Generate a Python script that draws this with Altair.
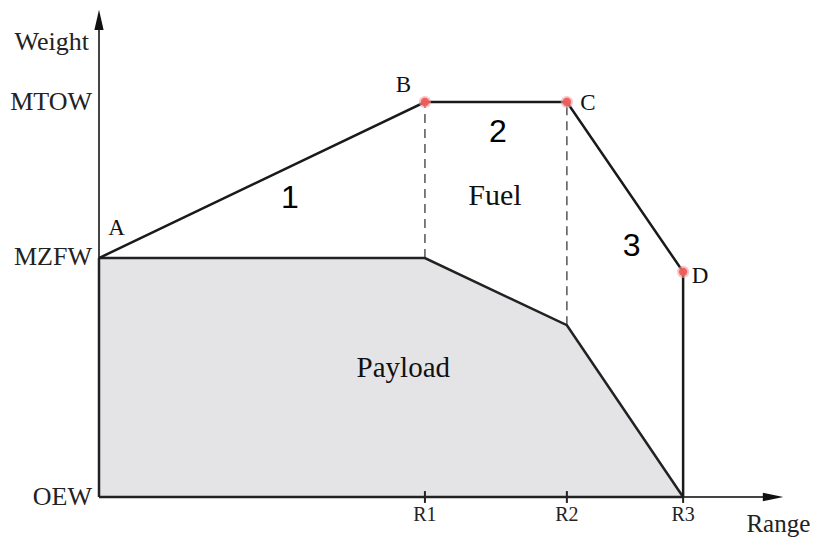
import altair as alt
import pandas as pd

# ---- data (arbitrary units: range 0..R3=100, weight OEW=0..MTOW=100)
R1, R2, R3 = 55.8, 80.1, 100.0
OEW, MZFW, MTOW = 0.0, 60.5, 100.0
D_W = 57.0
PAYLOAD_AT_R2 = 43.5

envelope_x = [0.0, R1, R2, R3, R3]
envelope_y = [MZFW, MTOW, MTOW, D_W, OEW]

payload_x = [0.0, R1, R2, R3]
payload_y = [MZFW, MZFW, PAYLOAD_AT_R2, OEW]

dot_x = [R1, R2, R3]
dot_y = [MTOW, MTOW, D_W]

dash_x = [R1, R2]
dash_y1 = [MZFW, PAYLOAD_AT_R2]
dash_y2 = [MTOW, MTOW]

tick_x = [R1, R2]
tick_names = ["R1", "R2", "R3"]
tick_vals = [R1, R2, R3]
ylab_names = ["MTOW", "MZFW", "OEW"]
ylab_base = [98.0, 58.7, -2.0]

serif_text = ["A", "B", "C", "D", "Fuel", "Payload"]
serif_x = [3.0, 52.1, 83.7, 102.9, 67.8, 52.1]
serif_y = [66.3, 102.5, 98.0, 54.2, 73.9, 30.4]
serif_size = [23, 23, 23, 23, 30, 29]

num_text = ["1", "2", "3"]
num_x = [32.7, 68.3, 91.2]
num_y = [73.2, 89.9, 61.0]

title_text = ["Weight", "Range"]
title_x = [-8.1, 116.3]
title_y = [113.2, -8.9]
title_size = [26, 25]

X_MAX, Y_MAX = 117.1, 123.3

xs = alt.Scale(domain=[0, X_MAX], nice=False, zero=False)
ys = alt.Scale(domain=[0, Y_MAX], nice=False, zero=False)
X = lambda f: alt.X(f, type="quantitative", scale=xs, axis=None)
Y = lambda f: alt.Y(f, type="quantitative", scale=ys, axis=None, stack=None)

SERIF = "Liberation Serif"
SANS = "Liberation Sans"

payload_df = pd.DataFrame({"x": payload_x, "y": payload_y, "y0": [0.0] * len(payload_x)})
area = alt.Chart(payload_df).mark_area(color="#e4e4e6", opacity=1).encode(
    x=X("x"), y=Y("y"), y2="y0:Q")
payload_line = alt.Chart(payload_df).mark_line(color="#222", strokeWidth=2.5).encode(
    x=X("x"), y=Y("y"))

# axes
axes_df = pd.DataFrame({"x": [0, 0], "y": [0, 0], "x2": [115.0, 0], "y2": [0, 121.0]})
axes = alt.Chart(axes_df).mark_rule(color="#444", strokeWidth=2).encode(
    x=X("x"), y=Y("y"), x2="x2:Q", y2="y2:Q")
left_edge = alt.Chart(pd.DataFrame({"x": [0], "y": [0], "y2": [MZFW]})).mark_rule(
    color="#222", strokeWidth=2.5).encode(x=X("x"), y=Y("y"), y2="y2:Q")
bottom_edge = alt.Chart(pd.DataFrame({"x": [0], "x2": [R3], "y": [0]})).mark_rule(
    color="#222", strokeWidth=2.5).encode(x=X("x"), x2="x2:Q", y=Y("y"))

arrow_up = alt.Chart(pd.DataFrame({"x": [0], "y": [120.8]})).mark_point(
    shape="M0,-1 L0.45,1 L-0.45,1 Z", filled=True, color="#111", size=420, opacity=1).encode(
    x=X("x"), y=Y("y"))
arrow_right = alt.Chart(pd.DataFrame({"x": [115.4], "y": [0]})).mark_point(
    shape="M1,0 L-1,0.42 L-1,-0.42 Z", filled=True, color="#111", size=420, opacity=1).encode(
    x=X("x"), y=Y("y"))

ticks_df = pd.DataFrame({"x": tick_x, "y": [-1.5] * len(tick_x), "y2": [1.5] * len(tick_x)})
ticks = alt.Chart(ticks_df).mark_rule(color="#222", strokeWidth=2).encode(
    x=X("x"), y=Y("y"), y2="y2:Q")
r3_tick = alt.Chart(pd.DataFrame({"x": [R3], "y": [-1.5], "y2": [0]})).mark_rule(
    color="#222", strokeWidth=2).encode(x=X("x"), y=Y("y"), y2="y2:Q")

envelope_df = pd.DataFrame({"x": envelope_x, "y": envelope_y, "o": range(len(envelope_x))})
envelope = alt.Chart(envelope_df).mark_line(color="#1a1a1a", strokeWidth=2.5).encode(
    x=X("x"), y=Y("y"), order="o:Q")

dash_df = pd.DataFrame({"x": dash_x, "y": dash_y1, "y2": dash_y2})
dashes = alt.Chart(dash_df).mark_rule(color="#555", strokeWidth=1.5, strokeDash=[9, 6]).encode(
    x=X("x"), y=Y("y"), y2="y2:Q")

dots_df = pd.DataFrame({"x": dot_x, "y": dot_y})
halo = alt.Chart(dots_df).mark_circle(color="#f4a0a0", opacity=0.6, size=150).encode(
    x=X("x"), y=Y("y"))
dots = alt.Chart(dots_df).mark_circle(color="#ee5c5c", opacity=0.95, size=70).encode(
    x=X("x"), y=Y("y"))

xlab_df = pd.DataFrame({"t": tick_names, "x": tick_vals, "y": [-6.1] * 3})
xlabels = alt.Chart(xlab_df).mark_text(font=SERIF, fontSize=20, color="#222",
                                       baseline="alphabetic").encode(
    x=X("x"), y=Y("y"), text="t:N")
ylab_df = pd.DataFrame({"t": ylab_names, "x": [-1.2] * 3, "y": ylab_base})
ylabels = alt.Chart(ylab_df).mark_text(font=SERIF, fontSize=26, color="#222", align="right",
                                       baseline="alphabetic").encode(
    x=X("x"), y=Y("y"), text="t:N")

titles_df = pd.DataFrame({"t": title_text, "x": title_x, "y": title_y, "s": title_size})
titles = alt.Chart(titles_df).mark_text(font=SERIF, color="#222",
                                        baseline="alphabetic").encode(
    x=X("x"), y=Y("y"), text="t:N", size=alt.Size("s:Q", scale=None, legend=None))

serif_df = pd.DataFrame({"t": serif_text, "x": serif_x, "y": serif_y, "s": serif_size})
serif_labels = alt.Chart(serif_df).mark_text(font=SERIF, color="#111",
                                             baseline="alphabetic").encode(
    x=X("x"), y=Y("y"), text="t:N", size=alt.Size("s:Q", scale=None, legend=None))

num_df = pd.DataFrame({"t": num_text, "x": num_x, "y": num_y})
num_labels = alt.Chart(num_df).mark_text(font=SANS, fontSize=32, color="#000",
                                         baseline="alphabetic").encode(
    x=X("x"), y=Y("y"), text="t:N")

chart = alt.layer(
    area, dashes, axes, left_edge, bottom_edge, payload_line, envelope, ticks, r3_tick,
    arrow_up, arrow_right, halo, dots, xlabels, ylabels, titles, serif_labels, num_labels
).properties(
    width=684, height=487,
    padding={"left": 91, "top": 2, "right": 28, "bottom": 40},
    autosize=alt.AutoSizeParams(type="none"),
).configure(background="white").configure_view(stroke=None)

chart.save("out.html", embed_options={"renderer": "svg", "actions": False})
